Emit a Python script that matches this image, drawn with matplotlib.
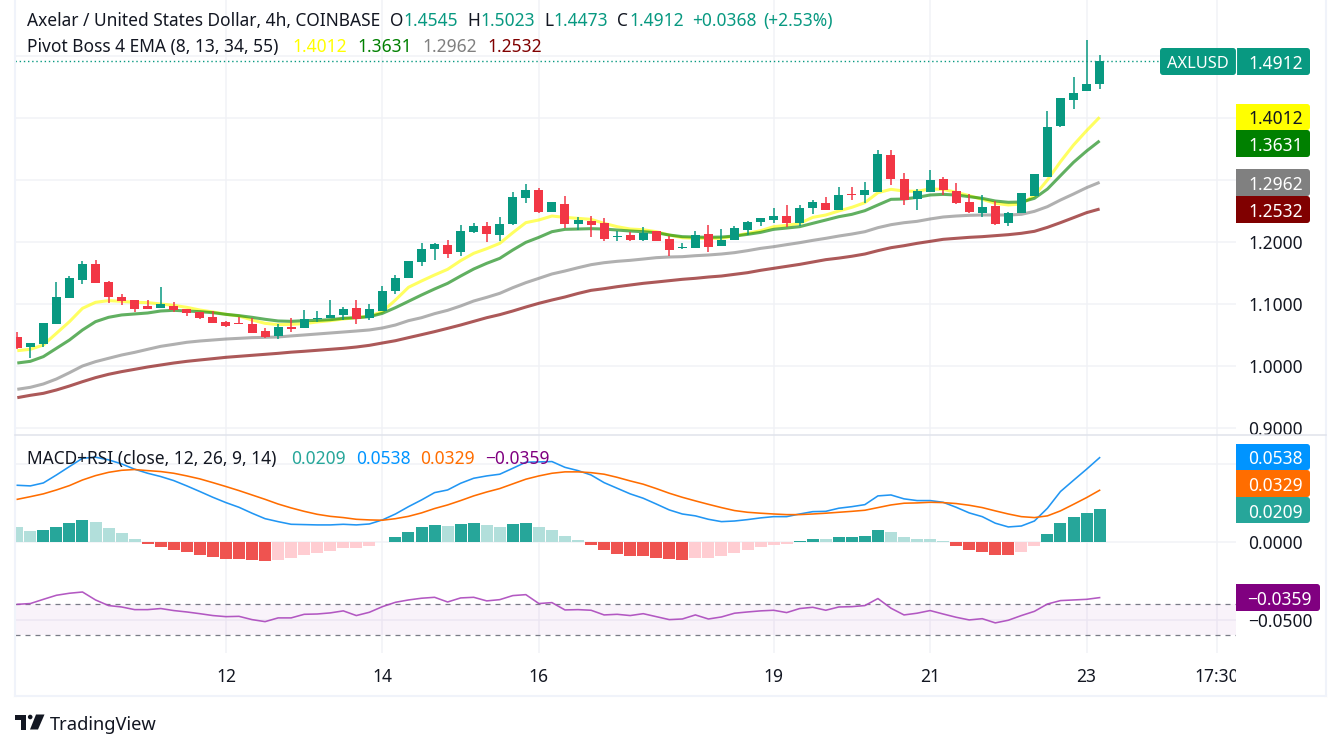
import matplotlib
matplotlib.use("Agg")
import matplotlib.pyplot as plt
from matplotlib.patches import Rectangle, FancyBboxPatch, Polygon, Circle
from matplotlib.lines import Line2D
from matplotlib.transforms import IdentityTransform, Bbox

# ---------- data ----------
opens = [1.0468,1.0306,1.0355,1.0677,1.1097,1.1387,1.1645,1.1355,1.1113,1.1065,1.0968,1.0935,1.0968,1.0919,1.0871,1.0790,1.0710,1.0694,1.0677,1.0565,1.0484,
         1.0629,1.0613,1.0758,1.0774,1.0822,1.0935,1.0774,1.0887,1.1210,1.1419,1.1677,1.1887,1.1951,1.1839,1.2161,1.2258,1.2113,1.2290,1.2710,1.2838,1.2484,
         1.2613,1.2290,1.2338,1.2306,1.2080,1.2113,1.2032,1.2177,1.2048,1.1903,1.1903,1.2129,1.1935,1.2032,1.2193,1.2322,1.2354,1.2419,1.2306,1.2548,1.2629,
         1.2516,1.2774,1.2758,1.2806,1.3403,1.3016,1.2693,1.2806,1.3016,1.2822,1.2645,1.2467,1.2580,1.2306,1.2467,1.2742,1.3048,1.3871,1.4290,1.4435,1.4545]
highs = [1.0548,1.0371,1.0694,1.1355,1.1452,1.1694,1.1710,1.1371,1.1161,1.1065,1.1065,1.1274,1.1032,1.0919,1.0871,1.0887,1.0726,1.0790,1.0774,1.0613,1.0677,
         1.0774,1.0903,1.0887,1.1064,1.0951,1.1064,1.1000,1.1290,1.1467,1.1693,1.1984,1.1984,1.2032,1.2274,1.2306,1.2322,1.2403,1.2806,1.2935,1.2871,1.2645,
         1.2742,1.2403,1.2419,1.2387,1.2177,1.2161,1.2241,1.2177,1.2096,1.1983,1.2177,1.2274,1.2209,1.2258,1.2338,1.2387,1.2548,1.2596,1.2596,1.2677,1.2725,
         1.2887,1.2887,1.2967,1.3484,1.3484,1.3113,1.2854,1.3161,1.3048,1.2951,1.2774,1.2758,1.2661,1.2483,1.2790,1.3097,1.4113,1.4322,1.4661,1.5258,1.5023]
lows = [1.0274,1.0129,1.0306,1.0677,1.1097,1.1323,1.1339,1.1016,1.0984,1.0871,1.0919,1.0935,1.0871,1.0806,1.0758,1.0694,1.0629,1.0677,1.0532,1.0452,1.0435,
        1.0548,1.0613,1.0710,1.0774,1.0742,1.0677,1.0742,1.0887,1.1161,1.1419,1.1613,1.1709,1.1742,1.1774,1.2145,1.2000,1.2016,1.2274,1.2629,1.2468,1.2484,
        1.2225,1.2193,1.2080,1.2016,1.2016,1.2016,1.2016,1.2016,1.1774,1.1887,1.1903,1.1838,1.1935,1.2032,1.2112,1.2258,1.2306,1.2241,1.2258,1.2451,1.2516,
        1.2516,1.2677,1.2629,1.2806,1.2919,1.2597,1.2516,1.2806,1.2758,1.2613,1.2467,1.2403,1.2274,1.2258,1.2467,1.2742,1.3048,1.3854,1.4145,1.4435,1.4473]
closes = [1.0290,1.0371,1.0694,1.1113,1.1419,1.1645,1.1339,1.1113,1.1048,1.0919,1.0919,1.1000,1.0903,1.0855,1.0774,1.0694,1.0645,1.0677,1.0532,1.0468,1.0629,
          1.0597,1.0758,1.0774,1.0822,1.0919,1.0758,1.0919,1.1210,1.1419,1.1693,1.1887,1.1967,1.1806,1.2177,1.2258,1.2129,1.2290,1.2726,1.2838,1.2484,1.2645,
          1.2290,1.2354,1.2274,1.2048,1.2096,1.2032,1.2145,1.2016,1.1871,1.1919,1.2112,1.1919,1.2032,1.2225,1.2322,1.2387,1.2419,1.2306,1.2548,1.2645,1.2516,
          1.2758,1.2758,1.2838,1.3419,1.3016,1.2677,1.2822,1.3000,1.2838,1.2629,1.2484,1.2564,1.2290,1.2467,1.2790,1.3097,1.3854,1.4322,1.4403,1.4548,1.4912]
ema8 = [1.0247,1.0269,1.0339,1.0527,1.0715,1.0930,1.1027,1.1054,1.1043,1.1027,1.1022,1.1000,1.0978,1.0946,1.0903,1.0871,1.0833,1.0806,1.0742,1.0688,1.0667,
        1.0672,1.0683,1.0710,1.0731,1.0758,1.0779,1.0806,1.0876,1.1064,1.1269,1.1371,1.1468,1.1559,1.1699,1.1817,1.1892,1.1978,1.2150,1.2312,1.2355,1.2419,
        1.2397,1.2381,1.2365,1.2301,1.2247,1.2209,1.2198,1.2166,1.2112,1.2069,1.2059,1.2059,1.2059,1.2096,1.2139,1.2182,1.2247,1.2268,1.2301,1.2397,1.2435,
        1.2500,1.2559,1.2634,1.2795,1.2849,1.2822,1.2817,1.2855,1.2849,1.2801,1.2747,1.2688,1.2624,1.2597,1.2613,1.2747,1.3000,1.3295,1.3564,1.3795,1.4012]
ema13 = [1.0048,1.0075,1.0151,1.0285,1.0419,1.0581,1.0715,1.0785,1.0823,1.0839,1.0855,1.0887,1.0898,1.0887,1.0876,1.0860,1.0833,1.0812,1.0785,1.0753,1.0726,
         1.0720,1.0731,1.0736,1.0747,1.0769,1.0779,1.0795,1.0849,1.0941,1.1043,1.1145,1.1242,1.1333,1.1451,1.1564,1.1656,1.1736,1.1871,1.1994,1.2075,1.2166,
         1.2204,1.2209,1.2215,1.2209,1.2193,1.2177,1.2166,1.2150,1.2112,1.2086,1.2080,1.2075,1.2080,1.2096,1.2123,1.2155,1.2204,1.2225,1.2247,1.2301,1.2354,
         1.2408,1.2446,1.2505,1.2597,1.2688,1.2693,1.2720,1.2758,1.2768,1.2758,1.2731,1.2704,1.2661,1.2640,1.2645,1.2704,1.2854,1.3070,1.3285,1.3467,1.3631]
ema34 = [.9624,.9656,.9710,.9790,.9892,1.0000,1.0070,1.0124,1.0177,1.0220,1.0269,1.0317,1.0349,1.0382,1.0403,1.0419,1.0435,1.0446,1.0457,1.0462,1.0468,
         1.0485,1.0500,1.0516,1.0532,1.0548,1.0564,1.0581,1.0613,1.0661,1.0731,1.0779,1.0844,1.0898,1.0968,1.1048,1.1107,1.1172,1.1263,1.1344,1.1414,1.1484,
         1.1532,1.1585,1.1634,1.1666,1.1688,1.1704,1.1725,1.1747,1.1758,1.1763,1.1779,1.1790,1.1806,1.1828,1.1860,1.1897,1.1924,1.1957,1.1989,1.2026,1.2059,
         1.2096,1.2128,1.2166,1.2231,1.2279,1.2311,1.2333,1.2371,1.2403,1.2419,1.2430,1.2435,1.2435,1.2435,1.2446,1.2494,1.2570,1.2677,1.2774,1.2876,1.2962]
ema55 = [.9489,.9527,.9559,.9613,.9677,.9747,.9812,.9866,.9909,.9946,.9984,1.0016,1.0048,1.0075,1.0097,1.0118,1.0140,1.0156,1.0172,1.0188,1.0204,
         1.0223,1.0237,1.0253,1.0269,1.0285,1.0306,1.0333,1.0371,1.0408,1.0457,1.0505,1.0554,1.0607,1.0661,1.0720,1.0779,1.0828,1.0887,1.0951,1.1011,1.1064,
         1.1113,1.1170,1.1220,1.1247,1.1279,1.1306,1.1333,1.1354,1.1376,1.1398,1.1414,1.1435,1.1451,1.1478,1.1505,1.1543,1.1575,1.1607,1.1639,1.1677,1.1715,
         1.1740,1.1770,1.1806,1.1860,1.1908,1.1940,1.1978,1.2010,1.2043,1.2059,1.2075,1.2086,1.2102,1.2118,1.2140,1.2172,1.2236,1.2312,1.2392,1.2473,1.2532]
macd_hist = [.0094,.0068,.0075,.0094,.0120,.0139,.0126,.0088,.0056,.0017,-.0015,-.0034,-.0053,-.0066,-.0085,-.0098,-.0111,-.0112,-.0118,-.0124,-.0118,
             -.0105,-.0085,-.0073,-.0060,-.0041,-.0041,-.0028,-.0002,.0030,.0062,.0094,.0107,.0100,.0113,.0120,.0107,.0094,.0113,.0120,.0094,.0075,
             .0036,.0011,-.0021,-.0053,-.0079,-.0092,-.0093,-.0105,-.0111,-.0118,-.0105,-.0105,-.0092,-.0073,-.0053,-.0034,-.0021,-.0015,.0004,.0017,.0017,
             .0030,.0031,.0036,.0075,.0062,.0030,.0017,.0017,.0004,-.0028,-.0053,-.0066,-.0085,-.0086,-.0066,-.0028,.0049,.0120,.0158,.0184,.0209]
macd_line = [.0361,.0357,.0376,.0427,.0481,.0534,.0541,.0524,.0498,.0464,.0438,.0417,.0391,.0357,.0321,.0284,.0250,.0220,.0182,.0147,.0128,
             .0111,.0109,.0107,.0107,.0111,.0107,.0113,.0139,.0177,.0224,.0267,.0314,.0331,.0374,.0406,.0421,.0432,.0470,.0509,.0511,.0513,
             .0476,.0455,.0427,.0378,.0342,.0306,.0278,.0241,.0203,.0177,.0165,.0143,.0128,.0132,.0141,.0152,.0160,.0160,.0177,.0192,.0194,
             .0214,.0224,.0237,.0293,.0299,.0274,.0263,.0263,.0252,.0220,.0184,.0160,.0118,.0094,.0100,.0132,.0214,.0321,.0393,.0464,.0538]
macd_signal = [.0271,.0288,.0306,.0331,.0359,.0395,.0423,.0444,.0457,.0462,.0455,.0449,.0438,.0421,.0402,.0378,.0353,.0327,.0299,.0271,.0241,
               .0216,.0194,.0175,.0162,.0154,.0143,.0139,.0137,.0147,.0162,.0184,.0212,.0235,.0263,.0293,.0318,.0340,.0370,.0400,.0421,.0438,
               .0447,.0447,.0442,.0432,.0412,.0389,.0368,.0340,.0310,.0284,.0261,.0239,.0218,.0199,.0188,.0182,.0177,.0173,.0173,.0177,.0182,
               .0188,.0194,.0201,.0218,.0235,.0246,.0248,.0252,.0250,.0244,.0233,.0218,.0197,.0177,.0160,.0154,.0165,.0197,.0239,.0282,.0329]
rsi_line = [-.0402,-.0397,-.0370,-.0344,-.0331,-.0323,-.0374,-.0410,-.0419,-.0436,-.0436,-.0429,-.0442,-.0451,-.0462,-.0474,-.0481,-.0479,-.0500,-.0513,-.0489,
            -.0489,-.0466,-.0464,-.0457,-.0444,-.0474,-.0453,-.0417,-.0389,-.0374,-.0363,-.0357,-.0387,-.0361,-.0357,-.0380,-.0372,-.0346,-.0340,-.0397,-.0391,
            -.0438,-.0436,-.0440,-.0470,-.0466,-.0474,-.0462,-.0481,-.0500,-.0496,-.0470,-.0496,-.0483,-.0459,-.0451,-.0444,-.0440,-.0455,-.0429,-.0421,-.0440,
            -.0419,-.0417,-.0410,-.0365,-.0427,-.0470,-.0459,-.0442,-.0464,-.0485,-.0502,-.0494,-.0521,-.0504,-.0474,-.0447,-.0400,-.0378,-.0374,-.0370,-.0359]
rsi_bands = [-.0402, -.0600]
price_ticks = [0.9, 1.0, 1.1, 1.2, 1.3, 1.4, 1.5]
price_tick_labels = ["0.9000", "1.0000", "1.1000", "1.2000", "", "", ""]
macd_ticks = [0.05, 0.0, -0.05]
macd_tick_labels = ["", "0.0000", "\u22120.0500"]
time_tick_pos = [16, 28, 40, 58, 70, 82, 92]
time_tick_labels = ["12", "14", "16", "19", "21", "23", "17:30"]
last_price = 1.4912

# ---------- style ----------
FONT = "Noto Sans"
plt.rcParams["font.family"] = [FONT, "DejaVu Sans"]
W, H = 1341, 749
UP, DOWN = "#089981", "#f23645"
GRID = "#f1f2f6"
TXT = "#131722"
FS = 12.5

fig = plt.figure(figsize=(W / 100, H / 100), dpi=100, facecolor="white")


def axes_px(x0, y0, x1, y1):
    return fig.add_axes([x0 / W, 1 - y1 / H, (x1 - x0) / W, (y1 - y0) / H])


ax = axes_px(15, 0, 1236, 434)
bx = axes_px(15, 434, 1236, 653)
n = len(closes)
xs = list(range(n))
xlim = (-0.176, 93.46)

for a in (ax, bx):
    a.set_xlim(*xlim)
    for s in a.spines.values():
        s.set_visible(False)
    a.set_facecolor("white")
    a.set_xticks(time_tick_pos)
    a.grid(True, color=GRID, lw=1.1, zorder=0)
    a.set_axisbelow(True)
    a.yaxis.tick_right()
    a.tick_params(axis="y", length=0, pad=9.0, labelsize=FS, labelcolor=TXT)
    a.tick_params(axis="x", length=0, labelbottom=False)

# ---------- price pane ----------
ax.set_ylim(0.8903, 1.5903)
ax.set_yticks(price_ticks)
ax.set_yticklabels(price_tick_labels)

for series, col, al in ((ema34, "#808080", .62), (ema55, "#800000", .65), (ema8, "#ffff00", .62), (ema13, "#008000", .62)):
    ax.plot(xs, series, color=col, alpha=al, lw=2.2, zorder=2, solid_capstyle="butt", solid_joinstyle="round")

colors = [UP if c >= o else DOWN for o, c in zip(opens, closes)]
ax.vlines(xs, lows, highs, colors=colors, lw=1.1, zorder=3)
ax.bar(xs, [abs(c - o) for o, c in zip(opens, closes)], bottom=[min(o, c) for o, c in zip(opens, closes)],
       width=0.69, color=colors, lw=0, zorder=4)
ax.hlines(last_price, xlim[0], (1160 - 17.3) / 13.04, color=UP, lw=1, linestyles=(0, (1, 2)), zorder=3)

# ---------- MACD + RSI pane ----------
bx.set_ylim(-0.0714, 0.06897)
bx.set_yticks(macd_ticks)
bx.set_yticklabels(macd_tick_labels)

bar_colors = []
for i, v in enumerate(macd_hist):
    prev = macd_hist[i - 1] if i else v
    if v >= 0:
        bar_colors.append("#26a69a" if v > prev else "#b2dfdb")
    else:
        bar_colors.append("#ef5350" if v < prev else "#ffcdd2")
bx.bar(xs, macd_hist, width=0.92, color=bar_colors, lw=0, zorder=2)
bx.plot(xs, macd_line, color="#2196f3", lw=1.15, zorder=3)
bx.plot(xs, macd_signal, color="#ff6d00", lw=1.15, zorder=3)
bx.axhspan(rsi_bands[1], rsi_bands[0], color="#9c27b0", alpha=0.055, lw=0, zorder=1)
for b in rsi_bands:
    bx.axhline(b, color="#787b86", lw=0.9, dashes=(4, 4), zorder=2)
bx.plot(xs, rsi_line, color="#ab47bc", lw=1.15, alpha=0.9, zorder=3)

# time axis tick labels (clipped at the price-scale edge, as in the source)
bx.tick_params(axis="x", labelbottom=True, labelsize=FS, labelcolor=TXT, pad=11)
bx.set_xticklabels(time_tick_labels)
for lab in bx.get_xticklabels():
    lab.set_clip_on(True)
    lab.set_clip_box(Bbox([[0, 0], [1236, H]]))

# ---------- frame ----------
ident = IdentityTransform()


def Y(y):
    return H - y


def frame(x0, y0, x1, y1, col="#f0f3fa", lw=1.5):
    fig.add_artist(Line2D([x0, x1], [Y(y0), Y(y1)], color=col, lw=lw, transform=ident, zorder=1))


frame(15, 0, 15, 696)
frame(1326, 0, 1326, 696)
frame(15, 696, 1326, 696)
frame(15, 434.5, 1326, 434.5, "#e0e3eb", 1.1)


def badge(x0, y0, x1, y1, col, round_left=False):
    fig.add_artist(FancyBboxPatch((x0, Y(y1)), x1 - x0, y1 - y0, boxstyle="round,pad=0,rounding_size=3",
                                  fc=col, ec="none", transform=ident, zorder=6))
    if not round_left:
        fig.add_artist(Rectangle((x0, Y(y1)), 6, y1 - y0, fc=col, ec="none", transform=ident, zorder=6))


def ptext(x, y, s, col=TXT, fs=FS, ha="left", **kw):
    return fig.text(x / W, 1 - y / H, s, color=col, fontsize=fs, ha=ha, va="center_baseline", zorder=8, **kw)


badge(1160, 48, 1236, 75, UP, round_left=True)
badge(1236, 48, 1310, 75, UP)
fig.add_artist(Line2D([1235.5, 1235.5], [Y(48), Y(75)], color="white", lw=0.8, transform=ident, zorder=7))
ptext(1167, 62, "AXLUSD", "white", fs=11.8)
ptext(1248.5, 62, "1.4912", "white")

for y0, y1, col, s, tc in [
    (104, 130, "#ffff00", "1.4012", TXT),
    (130, 157, "#008000", "1.3631", "white"),
    (169, 196, "#808080", "1.2962", "white"),
    (196, 223, "#800000", "1.2532", "white"),
    (444, 470, "#0094ff", "0.0538", "white"),
    (470, 497, "#ff6d00", "0.0329", "white"),
    (497, 523, "#26a69a", "0.0209", "white"),
]:
    badge(1236, y0, 1310, y1, col)
    ptext(1248.5, (y0 + y1) / 2 + 0.5, s, tc)
badge(1236, 584, 1320, 611, "#800080")
ptext(1247.5, 598, "\u22120.0359", "white")

# ---------- legends ----------
for x, y, s, c in [
    (27, 19, "Axelar / United States Dollar, 4h, COINBASE", TXT),
    (390, 19, "O", TXT), (403, 19, "1.4545", UP),
    (467, 19, "H", TXT), (480, 19, "1.5023", UP),
    (544, 19, "L", TXT), (553, 19, "1.4473", UP),
    (617, 19, "C", TXT), (629, 19, "1.4912", UP),
    (692, 19, "+0.0368", UP), (763, 19, "(+2.53%)", UP),
    (27, 45, "Pivot Boss 4 EMA (8, 13, 34, 55)", TXT),
    (292, 45, "1.4012", "#ffff00"), (357, 45, "1.3631", "#008000"),
    (422, 45, "1.2962", "#808080"), (487, 45, "1.2532", "#800000"),
    (27, 457, "MACD+RSI (close, 12, 26, 9, 14)", TXT),
    (291, 457, "0.0209", "#26a69a"), (356, 457, "0.0538", "#0094ff"),
    (420, 457, "0.0329", "#ff6d00"), (485, 457, "\u22120.0359", "#800080"),
]:
    ptext(x, y, s, c)

# ---------- TradingView logo ----------
LOGO = TXT
fig.add_artist(Rectangle((15, Y(719.5)), 11, 4.5, fc=LOGO, ec="none", transform=ident))
fig.add_artist(Rectangle((20.8, Y(729.5)), 5.2, 12, fc=LOGO, ec="none", transform=ident))
fig.add_artist(Circle((30.2, Y(717)), 2.3, fc=LOGO, ec="none", transform=ident))
fig.add_artist(Polygon([(36, Y(714.5)), (44.5, Y(714.5)), (38, Y(729.5)), (30, Y(729.5))], closed=True, fc=LOGO, ec="none", transform=ident))
ptext(50, 723, "TradingView", TXT, fs=13.2)

fig.savefig("out.png", dpi=100, facecolor="white")
